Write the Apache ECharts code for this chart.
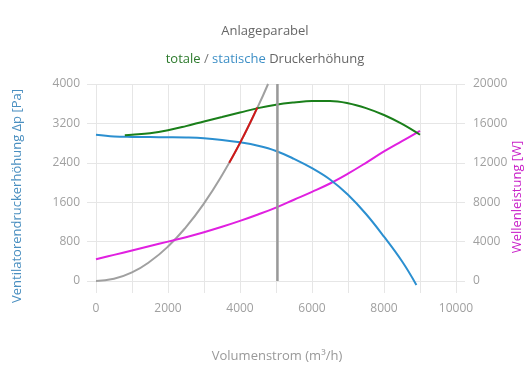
<!DOCTYPE html>
<html><head><meta charset="utf-8">
<script src="https://cdn.jsdelivr.net/npm/echarts@6/dist/echarts.min.js"></script>
<style>html,body{margin:0;padding:0;background:#fff}#c{width:530px;height:390px}</style>
</head><body><div id="c"></div>
<script>
// Volumenstrom (m³/h) for each curve
const statischX = [0,500,1000,1500,2000,2500,3000,3500,4000,4500,5000,5500,6000,6500,7000,7500,8000,8500,8900];
const statischY = [2970,2935,2925,2922,2920,2915,2900,2865,2815,2745,2640,2480,2290,2060,1750,1360,900,400,-80];
const totaleX = [800,1000,1500,2000,2500,3000,3500,4000,4500,5000,5500,6000,6500,7000,7500,8000,8500,9000];
const totaleY = [2960,2970,3000,3060,3145,3240,3330,3420,3510,3580,3625,3655,3655,3610,3510,3370,3190,2970];
const leistungX = [0,500,1000,1500,2000,2500,3000,3500,4000,4500,5000,5500,6000,6500,7000,7500,8000,8500,9000];
const leistungY = [2200,2650,3100,3550,4000,4450,4950,5500,6100,6750,7450,8250,9050,9900,10900,12000,13150,14200,15250];
const parabelX = [0,500,1000,1500,2000,2500,3000,3500,4000,4500,4780];
const parabelY = [0,45,175,395,700,1095,1575,2145,2800,3545,4000];
const betriebX = [3700,3900,4100,4300,4480];
const betriebY = [2400,2665,2945,3240,3520];
const markX = [5040,5040];
const markY = [0,4000];
const xTicks = [0,2000,4000,6000,8000,10000];
const leftTicks = [0,800,1600,2400,3200,4000];
const rightTicks = [0,4000,8000,12000,16000,20000];

const pairs = (xs, ys) => xs.map((x, i) => [x, ys[i]]);
const font = '"Open Sans", "Noto Sans", sans-serif';
const grid = '#e6e6e6';
const lab = '#a0a0a0';

const chart = echarts.init(document.getElementById('c'), null, {renderer: 'canvas'});
chart.setOption({
  animation: false,
  title: [
    {text: 'Anlageparabel', left: 'center', top: 20, textStyle: {fontFamily: font, fontSize: 13, fontWeight: 'normal', color: '#666'}},
    {text: '{g|totale} {s|/} {b|statische} {d|Druckerhöhung}', left: 'center', top: 48,
     textStyle: {fontFamily: font, fontSize: 13, fontWeight: 'normal', color: '#666',
       rich: {g: {color: '#2c7a2c', fontFamily: font, fontSize: 13}, s: {color: '#777', fontFamily: font, fontSize: 13},
              b: {color: '#3d8fc6', fontFamily: font, fontSize: 13}, d: {color: '#666', fontFamily: font, fontSize: 13}}}}
  ],
  grid: {left: 96, right: 74, top: 84, bottom: 109, containLabel: false},
  xAxis: {
    type: 'value', min: 0, max: 10000, interval: 1000,
    axisLine: {show: false},
    axisTick: {show: true, length: 12, lineStyle: {color: grid}},
    splitLine: {show: true, lineStyle: {color: grid}},
    axisLabel: {margin: 22, color: lab, fontFamily: font, fontSize: 12,
      formatter: v => xTicks.includes(v) ? String(v) : ''}
  },
  yAxis: [
    {type: 'value', min: 0, max: 4000, interval: 800, position: 'left',
     axisLine: {show: false}, axisTick: {show: true, length: 9, lineStyle: {color: grid}},
     splitLine: {show: true, lineStyle: {color: grid}},
     axisLabel: {margin: 16, color: lab, fontFamily: font, fontSize: 12,
       formatter: v => leftTicks.includes(v) ? String(v) : ''}},
    {type: 'value', min: 0, max: 20000, interval: 4000, position: 'right',
     axisLine: {show: false}, axisTick: {show: true, length: 9, lineStyle: {color: grid}},
     splitLine: {show: false},
     axisLabel: {margin: 17, color: lab, fontFamily: font, fontSize: 12,
       formatter: v => rightTicks.includes(v) ? String(v) : ''}}
  ],
  graphic: [
    {type: 'text', x: 17, y: 196, rotation: Math.PI / 2,
     style: {text: 'Ventilatorendruckerhöhung Δp [Pa]', fill: '#4a8fc0', font: '13px ' + font, align: 'center', verticalAlign: 'middle'}},
    {type: 'text', x: 517, y: 197, rotation: Math.PI / 2,
     style: {text: 'Wellenleistung [W]', fill: '#c81fc8', font: '13px ' + font, align: 'center', verticalAlign: 'middle'}},
    {type: 'text', x: 277, y: 356,
     style: {text: 'Volumenstrom (m³/h)', fill: '#999', font: '13px ' + font, align: 'center', verticalAlign: 'middle'}}
  ],
  series: [
    {type: 'line', name: 'Anlageparabel', data: pairs(parabelX, parabelY), smooth: true, symbol: 'none', clip: true,
     lineStyle: {color: '#a0a0a0', width: 2}, z: 2},
    {type: 'line', name: 'Wellenleistung', yAxisIndex: 1, data: pairs(leistungX, leistungY), smooth: 0.4, symbol: 'none',
     lineStyle: {color: '#e020e0', width: 2}, z: 3},
    {type: 'line', name: 'statisch', data: pairs(statischX, statischY), smooth: 0.4, symbol: 'none', clip: false,
     lineStyle: {color: '#2b8fd0', width: 2}, z: 3},
    {type: 'line', name: 'totale', data: pairs(totaleX, totaleY), smooth: 0.4, symbol: 'none',
     lineStyle: {color: '#1a7f1a', width: 2}, z: 3},
    {type: 'line', name: 'Betrieb', data: pairs(betriebX, betriebY), smooth: true, symbol: 'none',
     lineStyle: {color: '#d01818', width: 2}, z: 4},
    {type: 'line', name: 'Marke', data: pairs(markX, markY), symbol: 'none',
     lineStyle: {color: '#999', width: 2.5}, z: 4}
  ]
});
</script></body></html>
